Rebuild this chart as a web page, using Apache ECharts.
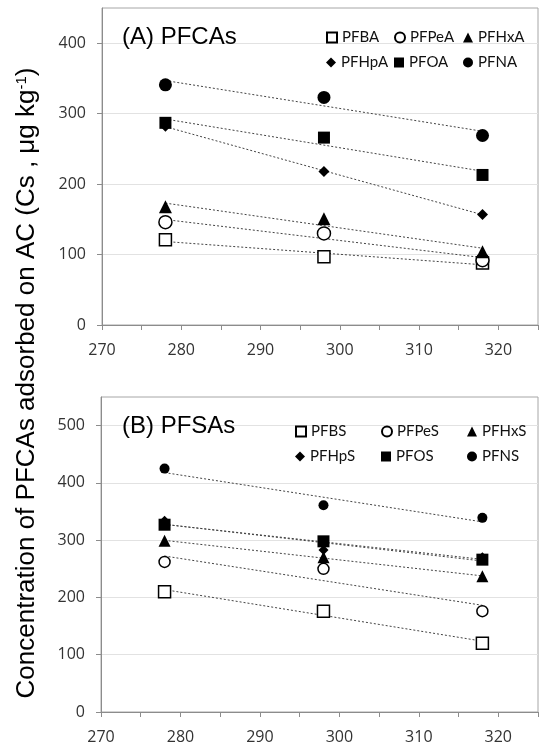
<!DOCTYPE html>
<html>
<head>
<meta charset="utf-8">
<script src="https://cdn.jsdelivr.net/npm/echarts@6/dist/echarts.min.js"></script>
<style>
  html, body { margin: 0; padding: 0; background: #fff; }
  #chart { width: 541px; height: 745px; }
</style>
</head>
<body>
<div id="chart"></div>
<script>
// temperatures (K)
const temps = [278, 298, 318];

// (A) PFCAs
const pfcaNames = ['PFBA', 'PFPeA', 'PFHxA', 'PFHpA', 'PFOA', 'PFNA'];
const pfcaValues = [
  [121, 97, 88],
  [146, 130, 92],
  [168, 151, 104],
  [282, 218, 157],
  [287, 266, 213],
  [341, 323, 269]
];

// (B) PFSAs
const pfsaNames = ['PFBS', 'PFPeS', 'PFHxS', 'PFHpS', 'PFOS', 'PFNS'];
const pfsaValues = [
  [210, 176, 120],
  [262, 250, 176],
  [299, 270, 237],
  [334, 283, 270],
  [327, 298, 266],
  [425, 361, 339]
];

const yTicksA = [0, 100, 200, 300, 400];
const yTicksB = [0, 100, 200, 300, 400, 500];

const symbols = ['rect', 'circle', 'triangle', 'diamond', 'rect', 'circle'];
const hollow = [true, true, false, false, false, false];
const sizesA = [12, 13, 13, 11, 12, 13];
const sizesB = [12, 11, 12, 10, 12, 10];

// least squares line through the three points
function trend(vals) {
  const n = temps.length;
  const mx = temps.reduce((a, b) => a + b, 0) / n;
  const my = vals.reduce((a, b) => a + b, 0) / n;
  let sxy = 0, sxx = 0;
  for (let i = 0; i < n; i++) {
    sxy += (temps[i] - mx) * (vals[i] - my);
    sxx += (temps[i] - mx) * (temps[i] - mx);
  }
  const k = sxy / sxx;
  const x0 = temps[0], x1 = temps[n - 1];
  return [[x0, my + k * (x0 - mx)], [x1, my + k * (x1 - mx)]];
}

const tickFont = { fontFamily: 'Open Sans', fontSize: 16, color: '#333' };
const legendFont = { fontFamily: 'Lato', fontSize: 15, color: '#111' };

function makeXAxis(gridIndex) {
  return {
    type: 'value', gridIndex: gridIndex, min: 270, max: 325, interval: 5,
    axisLine: { show: true, lineStyle: { color: '#8c8c8c' } },
    axisTick: { show: true, length: 5, lineStyle: { color: '#8c8c8c' } },
    axisLabel: Object.assign({ margin: 17, formatter: v => (v % 10 === 0 ? String(v) : '') }, tickFont),
    splitLine: { show: false }
  };
}

function makeYAxis(gridIndex, max, ticks) {
  return {
    type: 'value', gridIndex: gridIndex, min: 0, max: max, interval: 100,
    axisLine: { show: true, lineStyle: { color: '#8c8c8c' } },
    axisTick: { show: true, length: 5, customValues: ticks, lineStyle: { color: '#8c8c8c' } },
    axisLabel: Object.assign({ margin: 16, customValues: ticks, formatter: v => (v > ticks[ticks.length - 1] ? '' : String(v)) }, tickFont),
    splitLine: { show: true, lineStyle: { color: '#e2e2e2' } }
  };
}

const series = [];
const legends = [];

function addPanel(names, values, sizes, gridIndex, legendLeft, legendTop) {
  names.forEach((name, i) => {
    series.push({
      type: 'line', xAxisIndex: gridIndex, yAxisIndex: gridIndex,
      data: trend(values[i]), symbol: 'none', silent: true, z: 2,
      lineStyle: { color: '#444', width: 1, type: [2, 2] }
    });
  });
  names.forEach((name, i) => {
    series.push({
      name: name, type: 'scatter', xAxisIndex: gridIndex, yAxisIndex: gridIndex,
      symbol: symbols[i], symbolSize: sizes[i], z: 3,
      itemStyle: hollow[i]
        ? { color: '#fff', borderColor: '#000', borderWidth: 1.5, opacity: 1 }
        : { color: '#000', opacity: 1 },
      data: temps.map((t, j) => [t, values[i][j]])
    });
    legends.push({
      data: [name], left: legendLeft[i % 3], top: legendTop[Math.floor(i / 3)],
      padding: 0, itemWidth: 10, itemHeight: 10, itemGap: 0,
      selectedMode: false, textStyle: legendFont
    });
  });
}

addPanel(pfcaNames, pfcaValues, sizesA, 0, [326, 394, 463], [30, 55]);
addPanel(pfsaNames, pfsaValues, sizesB, 1, [295, 381, 467], [424, 449]);

const chart = echarts.init(document.getElementById('chart'));
chart.setOption({
  animation: false,
  backgroundColor: '#fff',
  grid: [
    { left: 102, top: 8, right: 0, height: 317, show: true, borderColor: '#a6a6a6', borderWidth: 1 },
    { left: 101, top: 397, right: 2, height: 316, show: true, borderColor: '#a6a6a6', borderWidth: 1 }
  ],
  title: [
    { text: '(A) PFCAs', left: 122, top: 25, padding: 0,
      textStyle: { fontFamily: 'Liberation Sans', fontSize: 24, fontWeight: 'normal', color: '#000' } },
    { text: '(B) PFSAs', left: 122, top: 414, padding: 0,
      textStyle: { fontFamily: 'Liberation Sans', fontSize: 24, fontWeight: 'normal', color: '#000' } }
  ],
  legend: legends,
  xAxis: [makeXAxis(0), makeXAxis(1)],
  yAxis: [makeYAxis(0, 450, yTicksA), makeYAxis(1, 550, yTicksB)],
  graphic: [{
    type: 'text', x: 27, y: 383, rotation: Math.PI / 2,
    style: {
      text: 'Concentration of PFCAs adsorbed on AC (Cs , \u03bcg kg{sup|-1})',
      font: '26px "Liberation Sans"', fill: '#000',
      align: 'center', verticalAlign: 'middle',
      rich: { sup: { fontSize: 15, verticalAlign: 'top', fontFamily: 'Liberation Sans' } }
    }
  }],
  series: series
});
</script>
</body>
</html>
